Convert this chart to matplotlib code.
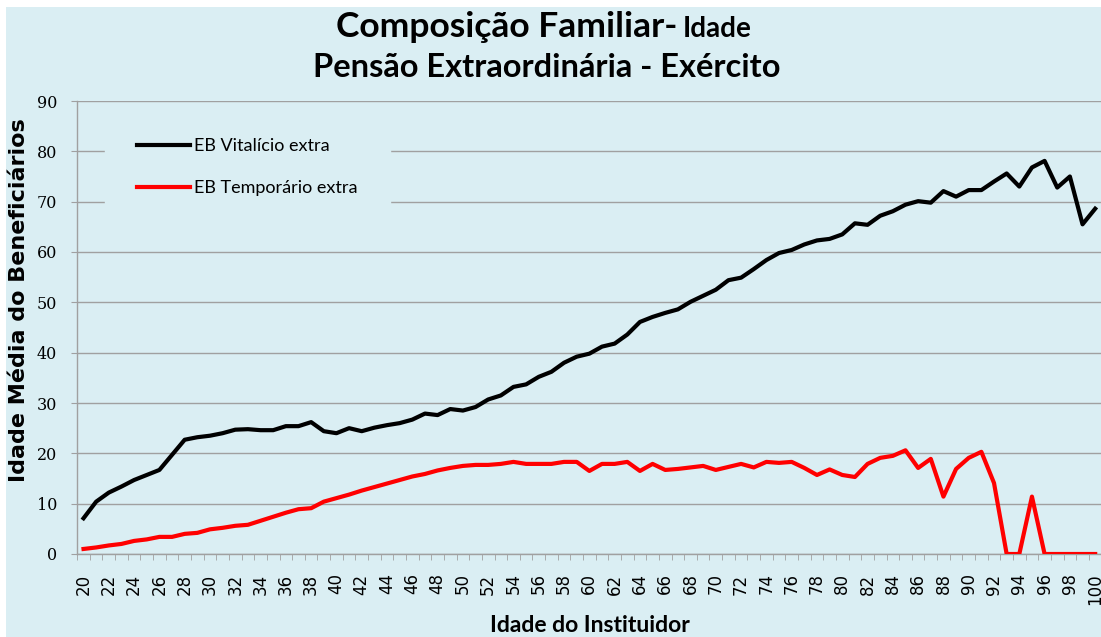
import matplotlib
matplotlib.use("Agg")
import matplotlib.pyplot as plt
from matplotlib.patches import Rectangle

# ages of the instituidor (category axis)
ages = list(range(20, 101))

# mean age of beneficiaries
vitalicio = [7.1, 10.4, 12.2, 13.4, 14.7, 15.7, 16.7, 19.7, 22.7, 23.2,
             23.5, 24.0, 24.7, 24.8, 24.6, 24.6, 25.4, 25.4, 26.2, 24.4,
             24.0, 25.0, 24.4, 25.1, 25.6, 26.0, 26.7, 27.9, 27.6, 28.8,
             28.5, 29.2, 30.7, 31.5, 33.2, 33.7, 35.2, 36.2, 38.0, 39.2,
             39.8, 41.2, 41.8, 43.6, 46.1, 47.1, 47.9, 48.6, 50.1, 51.3,
             52.5, 54.4, 54.9, 56.6, 58.4, 59.8, 60.4, 61.5, 62.3, 62.6,
             63.5, 65.7, 65.4, 67.2, 68.1, 69.4, 70.1, 69.8, 72.1, 71.0,
             72.3, 72.3, 74.0, 75.6, 73.0, 76.8, 78.1, 72.8, 75.0, 65.5,
             68.6]
temporario = [1.0, 1.3, 1.7, 2.0, 2.6, 2.9, 3.4, 3.4, 4.0, 4.2,
              4.9, 5.2, 5.6, 5.8, 6.6, 7.4, 8.2, 8.9, 9.1, 10.4,
              11.1, 11.8, 12.6, 13.3, 14.0, 14.7, 15.4, 15.9, 16.6, 17.1,
              17.5, 17.7, 17.7, 17.9, 18.3, 17.9, 17.9, 17.9, 18.3, 18.3,
              16.5, 17.9, 17.9, 18.3, 16.5, 17.9, 16.7, 16.9, 17.2, 17.5,
              16.7, 17.3, 17.9, 17.2, 18.3, 18.1, 18.3, 17.1, 15.7, 16.8,
              15.7, 15.3, 17.9, 19.1, 19.5, 20.6, 17.1, 18.9, 11.4, 16.9,
              19.1, 20.3, 14.1, 0, 0, 11.4, 0, 0, 0, 0,
              0]

labels = ["EB Vitalício extra", "EB Temporário extra"]
yticks = list(range(0, 91, 10))

BG = "#DAEEF3"
GRID = "#A0A0A0"
NARROW = ["Lato", "DejaVu Sans"]

W, H = 1101, 637
fig = plt.figure(figsize=(W / 100, H / 100), dpi=100)
fig.patch.set_facecolor("white")
fig.add_artist(Rectangle((6 / W, 0), 1, 1 - 7 / H, transform=fig.transFigure,
                         facecolor=BG, edgecolor="none", zorder=-10))

ax = fig.add_axes([77.2 / W, 1 - 554 / H, 1024.3 / W, 453 / H])
ax.set_facecolor(BG)

ax.plot(ages, vitalicio, color="black", lw=3, label=labels[0], zorder=3)
ax.plot(ages, temporario, color="#FF0000", lw=3, label=labels[1], zorder=3)

ax.set_xlim(ages[0] - 0.5, ages[-1] + 0.5)
ax.set_ylim(0, 90)

# category boundaries get the tick marks, even ages get the labels
ax.set_xticks([a - 0.5 for a in ages] + [ages[-1] + 0.5], minor=True)
ax.set_xticks(ages[::2])
ax.set_xticklabels([str(a) for a in ages[::2]], rotation=90,
                   fontsize=12, family="DejaVu Sans")
ax.tick_params(axis="x", which="major", length=0, pad=14)
ax.tick_params(axis="x", which="minor", length=4, color=GRID, direction="out")

ax.set_yticks(yticks)
ax.set_yticklabels([str(v) for v in yticks], fontsize=11.5, family="DejaVu Serif")
ax.tick_params(axis="y", length=4.5, color=GRID, pad=10)

ax.grid(axis="y", color=GRID, lw=1.0)
ax.set_axisbelow(True)
for s in ["top", "right"]:
    ax.spines[s].set_visible(False)
for s in ["left", "bottom"]:
    ax.spines[s].set_color(GRID)
    ax.spines[s].set_linewidth(1.0)

leg = ax.legend(loc="upper left", bbox_to_anchor=(0.027, 0.99),
                prop={"family": NARROW, "size": 13}, frameon=True,
                facecolor=BG, edgecolor=BG, framealpha=1, fancybox=False,
                handlelength=2.9, handletextpad=0.25, labelspacing=1.45,
                borderpad=1.8, borderaxespad=0)
leg.set_zorder(5)

# titles
fig.text(677 / W, 1 - 37 / H, "Composição Familiar-", ha="right", va="baseline",
         fontsize=25.5, fontweight="bold", family=NARROW)
fig.text(683 / W, 1 - 37 / H, "Idade", ha="left", va="baseline",
         fontsize=20, fontweight="bold", family=NARROW)
fig.text(546.5 / W, 1 - 77 / H, "Pensão Extraordinária - Exército", ha="center",
         va="baseline", fontsize=23.5, fontweight="bold", family=NARROW)

fig.text(19.5 / W, 1 - 300 / H, "Idade Média do Beneficiários", rotation=90,
         ha="center", va="center", fontsize=16, fontweight="bold",
         family="DejaVu Sans")
fig.text(590 / W, 1 - 615 / H, "Idade do Instituidor", ha="center", va="top",
         fontsize=16.5, fontweight="bold", family=NARROW)

fig.savefig("out.png", dpi=100, facecolor=fig.get_facecolor())
